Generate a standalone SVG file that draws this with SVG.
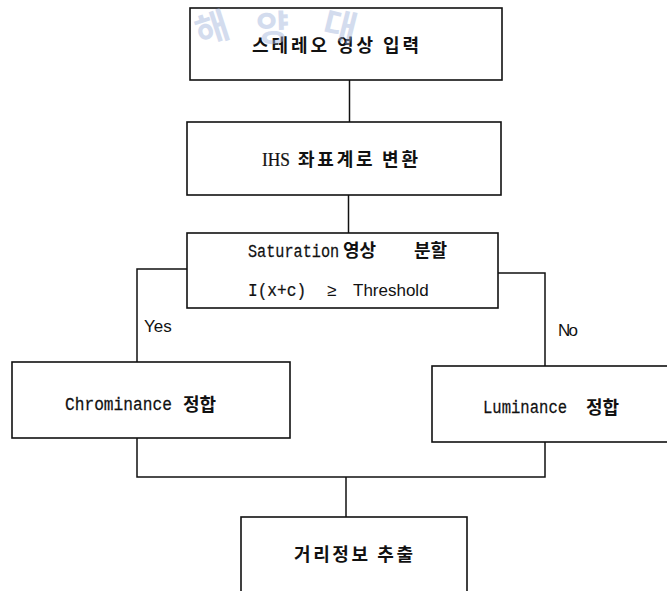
<svg xmlns="http://www.w3.org/2000/svg" width="667" height="591" viewBox="0 0 667 591">
<style>
.box{fill:#fff;stroke:#111;stroke-width:1.6}
.ln{fill:none;stroke:#111;stroke-width:1.5}
.m{font-family:"Liberation Mono",monospace;font-size:19px;fill:#111;stroke:#111;stroke-width:0.25}
.s{font-family:"Liberation Serif",serif;font-size:19px;fill:#111;stroke:#111;stroke-width:0.25}
.k{font-family:"Noto Sans CJK KR",sans-serif;font-size:18px;font-weight:bold;fill:#111;white-space:pre}
.lab{font-family:"Liberation Sans",Arial,sans-serif;font-size:17px;fill:#111}
.wm{font-family:"Noto Sans CJK KR",sans-serif;font-size:36px;font-weight:bold;fill:#9fb2da;opacity:0.45}
</style>
<rect width="667" height="591" fill="#fff"/>
<g id="connectors">
<path class="ln" d="M349.5,80 V122"/>
<path class="ln" d="M348.5,195 V233"/>
<path class="ln" d="M187,269 H137 V362"/>
<path class="ln" d="M498,273 H545 V366"/>
<path class="ln" d="M137,438 V477 H545 V442"/>
<path class="ln" d="M346,477 V517"/>
<text class="lab" x="144" y="332">Yes</text>
<text class="lab" x="558" y="336" textLength="20">No</text>
</g>
<g id="n1">
<rect class="box" x="190" y="8" width="312" height="72"/>
<text class="k" x="252" y="52" textLength="167" lengthAdjust="spacing">스테레오 영상 입력</text>
</g>
<g id="n2">
<rect class="box" x="187" y="122" width="314" height="73"/>
<text class="s" transform="translate(262,166) scale(0.915,1)">IHS</text>
<text class="k" x="298" y="166" textLength="120" lengthAdjust="spacing">좌표계로 변환</text>
</g>
<g id="n3">
<rect class="box" x="187" y="233" width="311" height="75"/>
<text class="m" font-size="17" transform="translate(248,257) scale(0.8,1)">Saturation</text>
<text class="k" x="343" y="257" font-size="16">영상</text>
<text class="k" x="414" y="257" font-size="16">분할</text>
<text class="m" font-size="18" transform="translate(248,296) scale(0.85,1)">I(x+c)</text>
<text class="lab" x="327" y="296" font-size="18">≥</text>
<text class="lab" x="353" y="296" font-size="19">Threshold</text>
</g>
<g id="n4">
<rect class="box" x="12" y="362" width="278" height="76"/>
<text class="m" transform="translate(65,410) scale(0.853,1)">Chrominance</text>
<text class="k" x="183" y="411" font-size="21">정합</text>
</g>
<g id="n5">
<rect class="box" x="432" y="366" width="245" height="76"/>
<text class="m" transform="translate(483,413) scale(0.82,1)">Luminance</text>
<text class="k" x="586" y="414" font-size="20">정합</text>
</g>
<g id="n6">
<rect class="box" x="241" y="517" width="226" height="85"/>
<text class="k" x="294" y="561" font-size="19" textLength="119" lengthAdjust="spacing">거리정보 추출</text>
</g>
<g id="watermark">
<text class="wm" transform="translate(216,41) rotate(-18)" text-anchor="middle">해</text>
<text class="wm" transform="translate(273,41) rotate(-2)" text-anchor="middle">양</text>
<text class="wm" transform="translate(337,39) rotate(14)" text-anchor="middle">대</text>
</g>
</svg>
